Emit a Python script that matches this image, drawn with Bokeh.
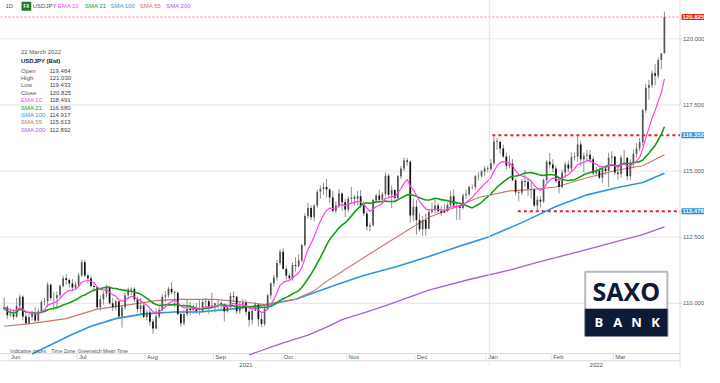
import pandas as pd
from bokeh.plotting import figure
from bokeh.models import (Range1d, Label, Span, BoxAnnotation)
from bokeh.embed import file_html
from bokeh.resources import INLINE

FONT = "Liberation Sans"

# ---------------- data ----------------
dates = pd.bdate_range("2021-05-27", "2022-03-22")

open_ = [109.78, 109.85, 109.55, 109.58, 109.50, 109.90, 110.25, 109.50, 109.25, 109.48,
         109.62, 109.35, 109.70, 110.05, 110.08, 110.70, 110.20, 110.20, 110.30, 110.65,
         110.95, 110.88, 110.75, 110.60, 110.70, 111.05, 111.55, 111.05, 110.95, 110.65,
         110.62, 109.85, 110.15, 110.35, 110.60, 110.00, 109.85, 110.08, 109.50, 109.85,
         110.30, 110.52, 110.55, 110.15, 109.78, 109.92, 109.48, 109.65, 109.30, 109.05,
         109.50, 109.75, 110.25, 110.30, 110.55, 110.42, 110.40, 109.60, 109.25, 109.60,
         109.78, 109.75, 109.80, 109.70, 109.70, 110.05, 110.08, 109.85, 109.92, 110.00,
         110.00, 109.95, 109.70, 109.85, 110.28, 110.25, 109.70, 109.92, 110.02, 109.68,
         109.38, 109.72, 109.95, 109.40, 109.22, 109.78, 110.30, 110.75, 110.98, 111.52,
         111.95, 111.30, 111.05, 110.95, 111.45, 111.42, 111.62, 112.20, 113.30, 113.60,
         113.25, 113.70, 114.22, 114.32, 114.40, 114.30, 114.00, 113.50, 113.70, 114.15,
         113.82, 113.55, 113.95, 114.00, 113.95, 114.05, 113.70, 113.40, 112.90, 112.95,
         113.90, 114.08, 113.92, 114.12, 114.82, 114.10, 114.28, 113.98, 114.80, 115.10,
         115.40, 115.35, 113.32, 113.65, 113.15, 112.80, 113.15, 112.82, 113.45, 113.52,
         113.70, 113.48, 113.42, 113.50, 113.72, 114.05, 113.70, 113.70, 113.60, 114.08,
         114.12, 114.40, 114.40, 114.80, 114.82, 114.98, 115.10, 115.08, 115.30, 116.12,
         116.10, 115.85, 115.55, 115.20, 115.28, 114.65, 114.20, 114.18, 114.62, 114.60,
         114.32, 114.30, 113.70, 113.92, 113.85, 114.65, 115.35, 115.25, 115.10, 114.62,
         114.40, 114.95, 115.25, 115.10, 115.52, 115.55, 116.00, 115.45, 115.58, 115.62,
         115.45, 114.92, 115.02, 114.75, 115.10, 115.00, 115.50, 115.55, 114.95, 114.90,
         115.50, 115.50, 114.80, 115.30, 115.65, 115.85, 116.10, 117.30, 118.15, 118.25,
         118.70, 118.60, 119.20, 119.464]
high = [110.22, 109.92, 109.80, 109.78, 110.20, 110.33, 110.30, 109.62, 109.60, 109.72,
        109.88, 109.80, 110.12, 110.20, 110.80, 110.75, 110.45, 110.45, 110.72, 111.05,
        111.10, 110.95, 110.92, 110.82, 111.15, 111.65, 111.65, 111.12, 111.05, 110.80,
        110.62, 110.30, 110.45, 110.70, 110.65, 110.20, 110.15, 110.10, 109.90, 110.40,
        110.60, 110.60, 110.60, 110.25, 110.20, 110.00, 109.75, 109.80, 109.40, 109.80,
        109.85, 110.35, 110.45, 110.62, 110.80, 110.48, 110.45, 109.70, 109.75, 110.15,
        110.05, 109.95, 110.00, 110.12, 110.15, 110.20, 110.15, 110.40, 110.00, 110.15,
        110.08, 110.00, 109.92, 110.40, 110.45, 110.28, 110.05, 110.15, 110.15, 109.75,
        109.85, 110.05, 109.95, 109.62, 109.90, 110.35, 110.80, 111.08, 111.65, 112.05,
        112.08, 111.40, 111.12, 111.55, 111.75, 111.85, 112.25, 113.40, 113.80, 113.70,
        113.75, 114.30, 114.45, 114.55, 114.70, 114.35, 114.25, 113.85, 114.32, 114.20,
        113.95, 114.05, 114.40, 114.10, 114.25, 114.28, 113.85, 113.50, 113.05, 113.95,
        114.15, 114.30, 114.20, 114.95, 114.90, 114.45, 114.30, 114.85, 115.20, 115.52,
        115.50, 115.40, 113.95, 113.90, 113.40, 113.30, 113.40, 113.55, 113.80, 113.95,
        113.80, 113.68, 113.75, 113.80, 114.25, 114.30, 113.85, 113.70, 114.15, 114.30,
        114.45, 114.50, 114.85, 114.95, 115.05, 115.18, 115.20, 115.45, 116.35, 116.25,
        116.15, 116.00, 115.70, 115.60, 115.45, 114.72, 114.28, 114.70, 115.05, 114.75,
        114.60, 114.35, 114.05, 114.05, 114.72, 115.42, 115.68, 115.45, 115.20, 114.75,
        115.05, 115.35, 115.40, 115.70, 115.70, 116.34, 116.12, 115.70, 115.80, 115.80,
        115.55, 115.15, 115.10, 115.15, 115.15, 115.70, 115.75, 115.55, 115.20, 115.60,
        115.80, 115.52, 115.45, 115.80, 116.05, 116.25, 117.35, 118.30, 118.45, 118.80,
        119.05, 119.30, 119.45, 121.030]
low = [109.72, 109.40, 109.48, 109.38, 109.45, 109.78, 109.35, 109.20, 109.20, 109.35,
       109.30, 109.30, 109.62, 109.92, 109.85, 110.10, 109.75, 109.80, 110.22, 110.60,
       110.70, 110.60, 110.45, 110.55, 110.60, 111.00, 110.98, 110.75, 110.60, 110.45,
       109.75, 109.72, 109.95, 110.22, 109.95, 109.70, 109.72, 109.45, 109.08, 109.75,
       110.15, 110.30, 110.05, 109.65, 109.60, 109.42, 109.35, 109.15, 108.85, 109.02,
       109.42, 109.70, 110.05, 110.22, 110.35, 109.85, 109.55, 109.12, 109.15, 109.50,
       109.55, 109.60, 109.60, 109.55, 109.65, 109.85, 109.60, 109.80, 109.65, 109.80,
       109.75, 109.32, 109.65, 109.80, 110.05, 109.60, 109.60, 109.75, 109.55, 109.12,
       109.20, 109.70, 109.12, 109.10, 109.15, 109.75, 110.15, 110.62, 110.85, 111.45,
       111.28, 110.90, 110.85, 110.85, 111.20, 111.35, 111.55, 112.15, 113.20, 113.15,
       113.10, 113.60, 113.95, 114.10, 114.00, 113.80, 113.42, 113.40, 113.60, 113.50,
       113.25, 113.45, 113.80, 113.70, 113.70, 113.60, 113.30, 112.75, 112.72, 112.90,
       113.80, 113.88, 113.80, 114.05, 114.00, 113.60, 113.85, 113.90, 114.70, 115.00,
       115.20, 113.05, 113.10, 112.60, 112.70, 112.55, 112.55, 112.80, 113.40, 113.40,
       113.40, 113.30, 113.40, 113.45, 113.65, 113.60, 113.15, 113.15, 113.55, 113.95,
       114.05, 114.30, 114.30, 114.65, 114.75, 114.82, 114.95, 115.00, 115.20, 115.80,
       115.65, 115.50, 115.05, 115.10, 114.62, 114.08, 113.85, 114.10, 114.40, 114.05,
       113.95, 113.65, 113.48, 113.62, 113.80, 114.60, 115.10, 114.95, 114.55, 114.15,
       114.35, 114.75, 114.95, 115.00, 115.40, 115.35, 115.20, 114.95, 115.35, 115.30,
       114.85, 114.80, 114.70, 114.55, 114.85, 114.40, 115.30, 114.85, 114.65, 114.75,
       115.30, 114.65, 114.65, 115.10, 115.50, 115.75, 115.95, 117.20, 117.70, 118.15,
       118.25, 118.50, 118.85, 119.433]
close = [109.85, 109.55, 109.58, 109.50, 109.90, 110.25, 109.50, 109.25, 109.48, 109.62,
         109.35, 109.70, 110.05, 110.08, 110.70, 110.20, 110.20, 110.30, 110.65, 110.95,
         110.88, 110.75, 110.60, 110.70, 111.05, 111.55, 111.05, 110.95, 110.65, 110.62,
         109.85, 110.15, 110.35, 110.60, 110.00, 109.85, 110.08, 109.50, 109.85, 110.30,
         110.52, 110.55, 110.15, 109.78, 109.92, 109.48, 109.65, 109.30, 109.05, 109.50,
         109.75, 110.25, 110.30, 110.55, 110.42, 110.40, 109.60, 109.25, 109.60, 109.78,
         109.75, 109.80, 109.70, 109.70, 110.05, 110.08, 109.85, 109.92, 110.00, 110.00,
         109.95, 109.70, 109.85, 110.28, 110.25, 109.70, 109.92, 110.02, 109.68, 109.38,
         109.72, 109.95, 109.40, 109.22, 109.78, 110.30, 110.75, 110.98, 111.52, 111.95,
         111.30, 111.05, 110.95, 111.45, 111.42, 111.62, 112.20, 113.30, 113.60, 113.25,
         113.70, 114.22, 114.32, 114.40, 114.30, 114.00, 113.50, 113.70, 114.15, 113.82,
         113.55, 113.95, 114.00, 113.95, 114.05, 113.70, 113.40, 112.90, 112.95, 113.90,
         114.08, 113.92, 114.12, 114.82, 114.10, 114.28, 113.98, 114.80, 115.10, 115.40,
         115.35, 113.32, 113.65, 113.15, 112.80, 113.15, 112.82, 113.45, 113.52, 113.70,
         113.48, 113.42, 113.50, 113.72, 114.05, 113.70, 113.70, 113.60, 114.08, 114.12,
         114.40, 114.40, 114.80, 114.82, 114.98, 115.10, 115.08, 115.30, 116.12, 116.10,
         115.85, 115.55, 115.20, 115.28, 114.65, 114.20, 114.18, 114.62, 114.60, 114.32,
         114.30, 113.70, 113.92, 113.85, 114.65, 115.35, 115.25, 115.10, 114.62, 114.40,
         114.95, 115.25, 115.10, 115.52, 115.55, 116.00, 115.45, 115.58, 115.62, 115.45,
         114.92, 115.02, 114.75, 115.10, 115.00, 115.50, 115.55, 114.95, 114.90, 115.50,
         115.50, 114.80, 115.30, 115.65, 115.85, 116.10, 117.30, 118.15, 118.25, 118.70,
         118.60, 119.20, 119.45, 120.825]

# moving averages (bar index, value)
sma55_idx = [0, 9, 20, 30, 41, 49, 56, 68, 78, 84, 94, 100, 104, 109, 119, 130, 137, 146, 153, 163, 170, 178, 188, 198, 206, 213]
sma55_val = [109.13, 109.24, 109.42, 109.78, 109.96, 110.10, 110.15, 110.15, 110.04, 109.95, 110.15, 110.47, 110.83, 111.20, 111.95, 112.75, 113.25, 113.65, 114.00, 114.25, 114.30, 114.40, 114.75, 115.04, 115.20, 115.613]
sma100_idx = [9, 21, 28, 36, 45, 55, 63, 73, 84, 94, 100, 106, 109, 116, 127, 137, 148, 156, 167, 178, 188, 198, 206, 213]
sma100_val = [108.08, 108.77, 109.13, 109.42, 109.60, 109.67, 109.67, 109.78, 109.93, 110.15, 110.40, 110.65, 110.78, 111.05, 111.40, 111.77, 112.20, 112.50, 113.05, 113.66, 114.10, 114.38, 114.57, 114.917]
sma200_idx = [79, 90, 98, 104, 109, 117, 124, 137, 150, 163, 172, 182, 190, 198, 206, 213]
sma200_val = [108.05, 108.50, 108.80, 109.10, 109.38, 109.68, 109.95, 110.50, 110.90, 111.25, 111.55, 111.85, 112.10, 112.35, 112.60, 112.892]

y_ticks = [110.0, 112.5, 115.0, 117.5, 120.0]
level_values = [116.352, 113.476]
level_start = [157.5, 165.7]

year_label_pos = [78, 191]
year_labels = ["2021", "2022"]

info_labels = ["Open", "High", "Low", "Close", "EMA 10", "SMA 21", "SMA 100", "SMA 55", "SMA 200"]
info_values = ["119.464", "121.030", "119.433", "120.825", "118.491", "116.680", "114.917", "115.613", "112.892"]

# ---------------- derived ----------------
idx = list(range(len(dates)))
cs = pd.Series(close)
ema10 = cs.ewm(span=10, adjust=False).mean()
sma21 = cs.rolling(21, min_periods=1).mean()

C_EMA10 = "#ff3fe8"
C_SMA21 = "#14a014"
C_SMA100 = "#2f96df"
C_SMA55 = "#c9756d"
C_SMA200 = "#a85fd4"
info_colors = ["#555555"] * 4 + [C_EMA10, C_SMA21, C_SMA100, C_SMA55, C_SMA200]
GRID = "#e4e4e4"


# reference pixel -> data helpers (layout of decorations)
def XI(px):
    return (px - 3.8) / 3.17


def YP(py):
    return 120 - (py - 40) / 27.6


X_AXIS = XI(695)   # price-scale border

p = figure(width=704, height=367, x_range=Range1d(XI(0), XI(720)),
           y_range=Range1d(YP(383), YP(0)), x_axis_location=None, y_axis_location=None,
           output_backend="svg", toolbar_location=None, min_border=0)
p.outline_line_color = None
p.background_fill_color = "white"
p.xgrid.visible = False
p.ygrid.visible = False

# price grid (stops at the price scale)
p.segment(x0=[XI(0)] * len(y_ticks), y0=y_ticks, x1=[XI(698)] * len(y_ticks), y1=y_ticks,
          line_color=GRID, line_width=1)
p.segment(x0=[X_AXIS], y0=[YP(383)], x1=[X_AXIS], y1=[YP(0)], line_color="#dddddd", line_width=1)

# time scale rows (month row + year row)
month_first = [i for i in range(1, len(dates)) if dates[i].month != dates[i - 1].month]
year_first = [i for i in range(1, len(dates)) if dates[i].year != dates[i - 1].year]
ROW_TOP, ROW_MID = YP(368.5), YP(376)
p.segment(x0=[XI(0), XI(0)], y0=[ROW_TOP, ROW_MID], x1=[X_AXIS, X_AXIS], y1=[ROW_TOP, ROW_MID],
          line_color="#dcdcdc", line_width=1)
p.segment(x0=[i - 1.5 for i in month_first], y0=[ROW_TOP] * len(month_first),
          x1=[i - 1.5 for i in month_first], y1=[ROW_MID] * len(month_first),
          line_color="#e4e4e4", line_width=1)
for i in month_first:
    p.add_layout(Label(x=i - 0.9, y=YP(372.5), text=dates[i].strftime("%b"), text_align="left",
                       text_baseline="middle", text_font=FONT, text_font_size="6px",
                       text_color="#555555"))
for xpos, t in zip(year_label_pos, year_labels):
    p.add_layout(Label(x=xpos, y=YP(380), text=t, text_align="center", text_baseline="middle",
                       text_font=FONT, text_font_size="6px", text_color="#555555"))

# year boundary line
for i in year_first:
    p.add_layout(Span(location=i - 0.5, dimension="height", line_color="#e3e3e3", line_width=1))

# last price dotted line
p.segment(x0=[XI(0)], y0=[close[-1]], x1=[X_AXIS], y1=[close[-1]],
          line_color="#f28a82", line_dash="2 2", line_width=1)

# horizontal levels
p.segment(x0=level_start, y0=level_values, x1=[X_AXIS] * 2, y1=level_values,
          line_color="#e8221b", line_width=2, line_dash="3 3")

# moving averages
p.line(sma200_idx, sma200_val, line_color=C_SMA200, line_width=1.3)
p.line(sma100_idx, sma100_val, line_color=C_SMA100, line_width=1.6)
p.line(sma55_idx, sma55_val, line_color=C_SMA55, line_width=1.1)

# candles
up = [c >= o for o, c in zip(open_, close)]
p.segment(x0=idx, y0=low, x1=idx, y1=high, line_color="#8f8f8f", line_width=1)
p.vbar(x=idx, top=[max(o, c) for o, c in zip(open_, close)],
       bottom=[min(o, c) for o, c in zip(open_, close)], width=0.55,
       fill_color=["#555555" if u else "#111111" for u in up], line_color=None)

p.line(idx, list(sma21), line_color=C_SMA21, line_width=1.6)
p.line(idx, list(ema10), line_color=C_EMA10, line_width=1.2)


def lab(px, py, text, color="#555555", size="6.5px", style="normal", align="left", **kw):
    p.add_layout(Label(x=XI(px), y=YP(py), text=text, text_align=align, text_baseline="middle",
                       text_font=FONT, text_font_size=size, text_color=color,
                       text_font_style=style, **kw))


# price scale labels
for t in y_ticks:
    p.add_layout(Label(x=XI(698), y=t, text=f"{t:.3f}", text_align="left", text_baseline="middle",
                       text_font=FONT, text_font_size="6px", text_color="#555555"))

# price tags on the scale
for val, col in [(close[-1], "#e8221b"), (level_values[0], "#2f8fd8"), (level_values[1], "#2f8fd8")]:
    p.add_layout(Label(x=XI(696.5), y=val, text=f"{val:.3f}", text_align="left",
                       text_baseline="middle", text_font=FONT, text_font_size="6px",
                       text_color="white", text_font_style="bold",
                       background_fill_color=col, padding=1))

# header
lab(5, 6, "1D", size="6px")
lab(21.5, 6, "FX", color="white", size="4.5px", style="bold", background_fill_color="#1c7a2e", padding=2)
lab(33, 6, "USDJPY", size="6px")
lab(58.5, 6, "EMA 10", color=C_EMA10, size="6px")
lab(86.5, 6, "SMA 21", color=C_SMA21, size="6px")
lab(112.5, 6, "SMA 100", color=C_SMA100, size="6px")
lab(142.5, 6, "SMA 55", color=C_SMA55, size="6px")
lab(169.5, 6, "SMA 200", color=C_SMA200, size="6px")

# info box
lab(21, 54, "22 March 2022", color="#555555", size="6px")
lab(21, 63.5, "USDJPY (Bid)", color="#222222", size="6px", style="bold")
for k, (t, v, c) in enumerate(zip(info_labels, info_values, info_colors)):
    lab(21, 73.2 + 7.7 * k, t, color=c, size="6px")
    lab(50, 73.2 + 7.7 * k, v, color="#444444", size="6px")

lab(10, 365.5, "Indicative prices", size="5px")
lab(52, 365.5, "Time Zone: Greenwich Mean Time", size="5px")

# logo
NAVY = "#0c1a35"
p.add_layout(BoxAnnotation(left=XI(598), right=XI(682), top=YP(283), bottom=YP(350),
                           fill_color="white", fill_alpha=1, line_color=NAVY, line_width=2))
p.add_layout(BoxAnnotation(left=XI(598), right=XI(682), top=YP(322), bottom=YP(350),
                           fill_color=NAVY, fill_alpha=1, line_color=NAVY, line_width=2))
p.add_layout(Label(x=XI(640), y=YP(303.5), text="SAXO", text_align="center", text_baseline="middle",
                   text_font="Open Sans", text_font_size="25px", text_font_style="bold",
                   text_color=NAVY))
for k, ch in enumerate("BANK"):
    p.add_layout(Label(x=XI(612 + 19.3 * k), y=YP(336), text=ch, text_align="center",
                       text_baseline="middle", text_font="Open Sans", text_font_size="13px",
                       text_font_style="bold", text_color="white"))

open("out.html", "w").write(file_html(p, INLINE))
